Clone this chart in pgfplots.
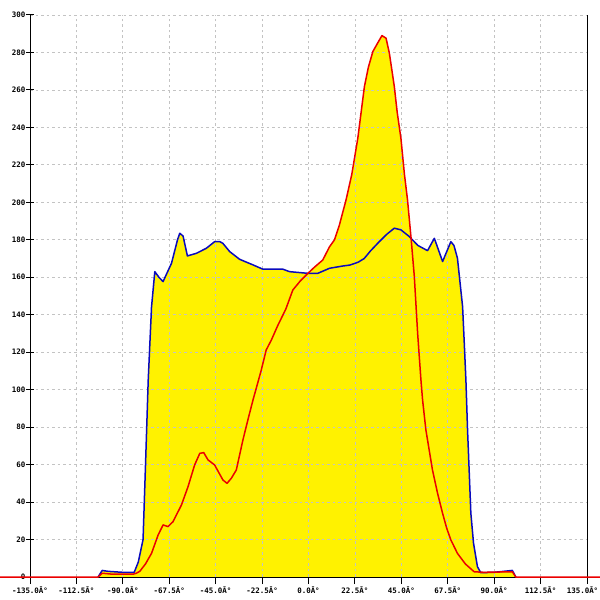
\documentclass[border=0pt]{standalone}
\usepackage{fontspec}
\setmonofont{DejaVu Sans Mono}
\usepackage{pgfplots}
\pgfplotsset{compat=1.18}
\definecolor{bluec}{RGB}{10,10,190}
\definecolor{redc}{RGB}{235,0,0}
\definecolor{gridc}{RGB}{195,195,195}
\begin{document}
\begin{tikzpicture}
\begin{axis}[
  set layers,
  at={(0,0)}, anchor=south west,
  scale only axis, width=557bp, height=562bp,
  xmin=-135, xmax=135, ymin=0, ymax=300,
  clip=false,
  axis x line*=bottom, axis y line*=box,
  separate axis lines,
  axis line style={black, line width=1bp, -},
  ytick pos=left,
  xtick={-135,-112.5,-90,-67.5,-45,-22.5,0,22.5,45,67.5,90,112.5,135},
  xticklabels={-135.0Â°,-112.5Â°,-90.0Â°,-67.5Â°,-45.0Â°,-22.5Â°,0.0Â°,22.5Â°,45.0Â°,67.5Â°,90.0Â°,112.5Â°,\hspace*{-9bp}135.0Â°},
  ytick={0,20,...,300},
  yticklabels={0,20,40,60,80,100,120,140,160,180,200,220,240,260,280,300},
  x tick style={black, line width=1bp},
  y tick style={black, line width=1bp},
  xtick align=outside, ytick align=center,
  major tick length=7bp,
  xticklabel style={font=\ttfamily\bfseries\fontsize{7.5}{8}\selectfont, inner sep=1bp, yshift=-1bp},
  yticklabel style={font=\ttfamily\bfseries\fontsize{7.5}{8}\selectfont, inner sep=1bp},
  grid=major,
  major grid style={gridc, line width=0.8bp, dash pattern=on 2.5bp off 3bp},
]
\addplot[on layer=axis background, fill=yellow, draw=none] coordinates {
(-102,0) (-100,3.5) (-97,3) (-90,2.5) (-84.5,2.5) (-82.5,8) (-80.2,20) (-79,60) (-77.7,105) (-76.1,144) (-74.5,163) (-72.5,160) (-70.5,157.7) (-66.4,167.5) (-63.5,180) (-62.4,183.5) (-60.8,182) (-58.7,171.4) (-54.3,172.8) (-49.5,175.5) (-45.5,179) (-43,179) (-41.5,178.1) (-38.2,173.7) (-33.4,169.6) (-26.9,166.6) (-22.1,164.3) (-12.4,164.3) (-9.2,163) (-0.3,162.1) (4.5,162.1) (10.2,164.8) (16.6,166) (20,166.5) (24,168) (27,170) (30,174) (34.3,179) (38,183) (41.6,186.2) (44.8,185.3) (48.9,181.7) (53,177) (57.7,174.2) (61,180.8) (65,168.4) (69,179) (70.5,177) (72.2,170.2) (74.7,144.3) (75.5,125) (76.3,105.2) (77.1,78.5) (78.7,34) (80,18) (81.9,5.5) (83.5,2.3) (90,2.5) (98.8,3.5) (100.5,0)
} \closedcycle;
\addplot[on layer=axis background, fill=yellow, draw=none] coordinates {
(-102,0) (-100,2) (-95,1.5) (-85,1.5) (-83.5,2) (-81.8,3) (-79,7) (-76.1,12.6) (-72.9,22.4) (-70.5,27.8) (-68.1,26.9) (-65.7,29.5) (-61.6,38.4) (-58.4,48.2) (-55.2,59.8) (-52.7,66) (-50.8,66.4) (-48.7,62.5) (-45.5,59.8) (-41.5,51.8) (-39.5,50) (-37.4,52.7) (-35,57.1) (-31.8,73.1) (-29.4,83.8) (-26.9,94.5) (-23,110) (-20.5,121.2) (-18,126.5) (-15,134) (-11,143) (-7.6,153.2) (-4,158) (-0.3,162.1) (3,165.5) (6.9,169.2) (10.2,176.3) (12.6,180) (15,188) (18.2,201.3) (21,215) (23.9,234.2) (25.5,248) (27.1,261.8) (29,272) (31.2,280.5) (33.5,285) (35.6,289) (37.6,287.6) (39.2,279.6) (41.6,261.8) (43,248) (44.8,234.2) (46.5,215) (48,201.3) (49.8,180) (51.3,160.3) (52.9,130.1) (54.5,105.2) (55.3,94.5) (56.9,78.5) (60.1,57.1) (62.5,45) (65,34) (67,26) (69,19.8) (72.2,12.6) (76,7) (80.3,2.8) (85,2.5) (98.8,2.8) (100.5,0)
} \closedcycle;
\addplot[bluec, line width=1.5bp, line join=round] coordinates {
(-102,0) (-100,3.5) (-97,3) (-90,2.5) (-84.5,2.5) (-82.5,8) (-80.2,20) (-79,60) (-77.7,105) (-76.1,144) (-74.5,163) (-72.5,160) (-70.5,157.7) (-66.4,167.5) (-63.5,180) (-62.4,183.5) (-60.8,182) (-58.7,171.4) (-54.3,172.8) (-49.5,175.5) (-45.5,179) (-43,179) (-41.5,178.1) (-38.2,173.7) (-33.4,169.6) (-26.9,166.6) (-22.1,164.3) (-12.4,164.3) (-9.2,163) (-0.3,162.1) (4.5,162.1) (10.2,164.8) (16.6,166) (20,166.5) (24,168) (27,170) (30,174) (34.3,179) (38,183) (41.6,186.2) (44.8,185.3) (48.9,181.7) (53,177) (57.7,174.2) (61,180.8) (65,168.4) (69,179) (70.5,177) (72.2,170.2) (74.7,144.3) (75.5,125) (76.3,105.2) (77.1,78.5) (78.7,34) (80,18) (81.9,5.5) (83.5,2.3) (90,2.5) (98.8,3.5) (100.5,0)
};
\addplot[redc, line width=1.5bp, line join=round] coordinates {
(-150,0) (-102,0) (-100,2) (-95,1.5) (-85,1.5) (-83.5,2) (-81.8,3) (-79,7) (-76.1,12.6) (-72.9,22.4) (-70.5,27.8) (-68.1,26.9) (-65.7,29.5) (-61.6,38.4) (-58.4,48.2) (-55.2,59.8) (-52.7,66) (-50.8,66.4) (-48.7,62.5) (-45.5,59.8) (-41.5,51.8) (-39.5,50) (-37.4,52.7) (-35,57.1) (-31.8,73.1) (-29.4,83.8) (-26.9,94.5) (-23,110) (-20.5,121.2) (-18,126.5) (-15,134) (-11,143) (-7.6,153.2) (-4,158) (-0.3,162.1) (3,165.5) (6.9,169.2) (10.2,176.3) (12.6,180) (15,188) (18.2,201.3) (21,215) (23.9,234.2) (25.5,248) (27.1,261.8) (29,272) (31.2,280.5) (33.5,285) (35.6,289) (37.6,287.6) (39.2,279.6) (41.6,261.8) (43,248) (44.8,234.2) (46.5,215) (48,201.3) (49.8,180) (51.3,160.3) (52.9,130.1) (54.5,105.2) (55.3,94.5) (56.9,78.5) (60.1,57.1) (62.5,45) (65,34) (67,26) (69,19.8) (72.2,12.6) (76,7) (80.3,2.8) (85,2.5) (98.8,2.8) (100.5,0) (145,0)
};
\end{axis}
\pgfresetboundingbox
\path[use as bounding box] (-30bp,-23bp) rectangle (570bp,577bp);
\end{tikzpicture}
\end{document}
